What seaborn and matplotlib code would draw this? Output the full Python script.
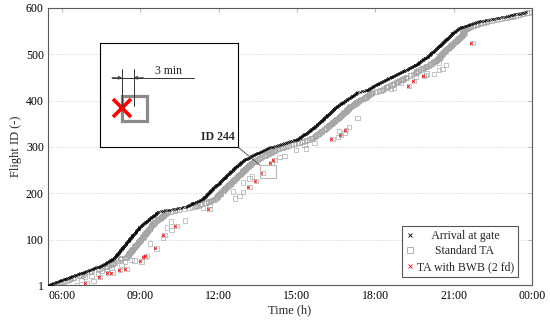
import numpy as np
import pandas as pd
import matplotlib
matplotlib.use('Agg')
import matplotlib.pyplot as plt
from matplotlib.lines import Line2D
from matplotlib.patches import Rectangle, ConnectionPatch
import seaborn as sns

# arrival time at gate of every flight, in flight ID order
arrival_hhmm = [
    '05:28', '05:30', '05:32', '05:35', '05:37', '05:40', '05:43', '05:46', '05:49', '05:52', '05:55', '05:58',
    '06:01', '06:04', '06:07', '06:09', '06:12', '06:15', '06:18', '06:21', '06:24', '06:27', '06:30', '06:33',
    '06:36', '06:39', '06:42', '06:45', '06:48', '06:51', '06:54', '06:56', '06:59',
    '07:02', '07:05', '07:08', '07:11', '07:14', '07:16', '07:19', '07:22', '07:25', '07:27', '07:30', '07:32',
    '07:34', '07:36', '07:38', '07:40', '07:42', '07:44', '07:46', '07:48', '07:50', '07:51', '07:53', '07:55',
    '07:56', '07:58', '07:59',
    '08:00', '08:01', '08:02', '08:03', '08:04', '08:05', '08:06', '08:07', '08:07', '08:08', '08:09', '08:10',
    '08:11', '08:12', '08:13', '08:14', '08:14', '08:15', '08:16', '08:17', '08:18', '08:19', '08:20', '08:21',
    '08:21', '08:22', '08:23', '08:24', '08:25', '08:26', '08:27', '08:28', '08:28', '08:29', '08:30', '08:31',
    '08:32', '08:33', '08:34', '08:35', '08:35', '08:36', '08:37', '08:38', '08:39', '08:40', '08:41', '08:42',
    '08:42', '08:43', '08:44', '08:45', '08:46', '08:47', '08:48', '08:49', '08:49', '08:50', '08:51', '08:52',
    '08:53', '08:54', '08:55', '08:56', '08:56', '08:57', '08:58', '08:59',
    '09:01', '09:02', '09:03', '09:05', '09:06', '09:07', '09:08', '09:10', '09:11', '09:12', '09:13', '09:15',
    '09:16', '09:17', '09:19', '09:20', '09:21', '09:23', '09:24', '09:25', '09:27', '09:28', '09:29', '09:31',
    '09:32', '09:33', '09:35', '09:36', '09:37', '09:39', '09:40', '09:41', '09:47', '09:52', '09:57',
    '10:03', '10:09', '10:15', '10:21', '10:27', '10:33', '10:39', '10:45', '10:48', '10:50', '10:52', '10:54',
    '10:56', '10:58', '10:59',
    '11:02', '11:04', '11:07', '11:09', '11:12', '11:14', '11:17', '11:19', '11:22', '11:24', '11:25', '11:26',
    '11:27', '11:28', '11:29', '11:30', '11:31', '11:32', '11:33', '11:34', '11:35', '11:36', '11:37', '11:38',
    '11:39', '11:40', '11:41', '11:42', '11:43', '11:44', '11:45', '11:46', '11:47', '11:48', '11:49', '11:51',
    '11:52', '11:53', '11:54', '11:56', '11:57', '11:59',
    '12:00', '12:01', '12:02', '12:03', '12:04', '12:05', '12:06', '12:07', '12:08', '12:09', '12:11', '12:12',
    '12:13', '12:14', '12:15', '12:16', '12:17', '12:18', '12:19', '12:20', '12:22', '12:23', '12:24', '12:25',
    '12:26', '12:27', '12:28', '12:29', '12:30', '12:32', '12:33', '12:34', '12:35', '12:36', '12:37', '12:38',
    '12:40', '12:41', '12:42', '12:43', '12:44', '12:46', '12:47', '12:48', '12:49', '12:51', '12:52', '12:53',
    '12:55', '12:56', '12:58', '12:59',
    '13:01', '13:03', '13:05', '13:07', '13:09', '13:11', '13:13', '13:15', '13:17', '13:19', '13:21', '13:23',
    '13:25', '13:27', '13:30', '13:32', '13:34', '13:37', '13:39', '13:41', '13:44', '13:46', '13:49', '13:51',
    '13:54', '13:56', '13:59',
    '14:02', '14:06', '14:09', '14:13', '14:16', '14:20', '14:24', '14:27', '14:31', '14:34', '14:38', '14:42',
    '14:45', '14:49', '14:52', '14:56', '14:59',
    '15:01', '15:03', '15:04', '15:06', '15:07', '15:09', '15:11', '15:12', '15:14', '15:15', '15:17', '15:19',
    '15:20', '15:22', '15:23', '15:25', '15:26', '15:28', '15:29', '15:31', '15:32', '15:33', '15:35', '15:36',
    '15:37', '15:38', '15:40', '15:41', '15:42', '15:43', '15:45', '15:46', '15:47', '15:48', '15:50', '15:51',
    '15:52', '15:53', '15:55', '15:56', '15:57', '15:58', '15:59',
    '16:00', '16:01', '16:02', '16:03', '16:05', '16:06', '16:07', '16:08', '16:09', '16:10', '16:12', '16:13',
    '16:14', '16:15', '16:16', '16:17', '16:19', '16:20', '16:21', '16:22', '16:23', '16:24', '16:25', '16:26',
    '16:27', '16:28', '16:29', '16:31', '16:33', '16:34', '16:36', '16:37', '16:39', '16:40', '16:42', '16:43',
    '16:45', '16:46', '16:48', '16:50', '16:51', '16:53', '16:54', '16:56', '16:58',
    '17:00', '17:01', '17:03', '17:04', '17:06', '17:07', '17:09', '17:10', '17:12', '17:13', '17:15', '17:16',
    '17:18', '17:19', '17:25', '17:30', '17:34', '17:38', '17:41', '17:43', '17:45', '17:46', '17:48', '17:50',
    '17:52', '17:54', '17:55', '17:57', '17:59',
    '18:01', '18:03', '18:05', '18:07', '18:09', '18:11', '18:14', '18:16', '18:18', '18:20', '18:22', '18:24',
    '18:26', '18:28', '18:30', '18:33', '18:35', '18:37', '18:39', '18:41', '18:43', '18:45', '18:47', '18:50',
    '18:52', '18:54', '18:56', '18:58',
    '19:01', '19:03', '19:05', '19:07', '19:09', '19:12', '19:14', '19:16', '19:18', '19:20', '19:22', '19:24',
    '19:26', '19:28', '19:31', '19:32', '19:34', '19:35', '19:37', '19:38', '19:40', '19:41', '19:43', '19:44',
    '19:46', '19:47', '19:49', '19:50', '19:52', '19:53', '19:55', '19:57', '19:58',
    '20:00', '20:01', '20:02', '20:03', '20:05', '20:06', '20:07', '20:08', '20:09', '20:10', '20:12', '20:13',
    '20:14', '20:15', '20:16', '20:17', '20:19', '20:20', '20:21', '20:22', '20:23', '20:24', '20:26', '20:27',
    '20:28', '20:29', '20:30', '20:31', '20:33', '20:34', '20:35', '20:36', '20:37', '20:38', '20:40', '20:41',
    '20:42', '20:43', '20:44', '20:45', '20:47', '20:48', '20:49', '20:50', '20:51', '20:52', '20:53', '20:54',
    '20:55', '20:56', '20:57', '20:58', '20:59',
    '21:01', '21:02', '21:04', '21:05', '21:07', '21:08', '21:10', '21:11', '21:13', '21:14', '21:16', '21:18',
    '21:22', '21:25', '21:28', '21:32', '21:35', '21:38', '21:42', '21:45', '21:48', '21:52', '21:55', '21:58',
    '22:03', '22:09', '22:15', '22:21', '22:27', '22:33', '22:39', '22:45', '22:51', '22:57',
    '23:02', '23:07', '23:12', '23:17', '23:22', '23:27', '23:32', '23:37', '23:42', '23:47',
]

# standard turnaround duration by hour of arrival
ta_hour = [5, 6, 7, 8, 9, 10, 11, 12, 13, 14, 15, 16, 17, 18, 19, 20, 21, 22, 23]
ta_duration_min = [12, 12, 18, 26, 22, 20, 28, 27, 28, 28, 30, 32, 34, 36, 32, 26, 18, 18, 10]

# flights whose standard TA ends far later than usual
late_ids = [2, 6, 11, 13, 19, 20, 21, 27, 28, 29, 33, 34, 37, 38, 40, 45, 52, 53, 55, 56,
            62, 65, 81, 92, 103, 110, 121, 126, 129, 139, 141, 166, 168, 175, 189, 194, 203, 204,
            214, 223, 227, 232, 236, 244, 266, 272, 279, 280, 294, 297, 304, 308, 317, 321, 326,
            330, 335, 337, 343, 362, 425, 427, 432, 438, 443, 452, 453, 456, 457, 459, 466, 468,
            477, 481, 524]
late_hhmm = ['06:34', '06:56', '07:12', '06:45', '07:27', '06:53', '07:08', '07:23', '07:46', '07:56',
             '07:31', '08:13', '08:28', '07:42', '07:54', '08:17', '08:25', '09:03', '08:47', '08:40',
             '09:10', '09:14', '09:37', '09:22', '09:52', '09:56', '10:12', '10:01', '10:23', '10:11',
             '10:42', '11:39', '11:24', '11:39', '12:37', '12:48', '12:56', '12:33', '13:11', '12:56',
             '13:26', '13:11', '13:17', '13:41', '14:01', '14:08', '14:20', '14:31', '14:58', '15:21',
             '15:17', '15:40', '16:22', '16:34', '16:41', '16:49', '16:36', '16:53', '16:59', '17:19',
             '18:36', '18:43', '19:18', '18:59', '19:29', '19:33', '19:52', '19:56', '20:15', '19:58',
             '20:26', '20:34', '20:43', '20:26', '21:43']

# flights handled with BWB (2 fd)
bwb_ids = [6, 19, 28, 29, 34, 37, 53, 62, 65, 81, 110, 129, 166, 214, 227, 244, 266, 272,
           317, 326, 337, 432, 443, 453, 524]
bwb_saving_min = 3
highlight_id = 244

x_ticks = [6, 9, 12, 15, 18, 21, 24]
x_tick_labels = ['06:00', '09:00', '12:00', '15:00', '18:00', '21:00', '00:00']
y_ticks = [1, 100, 200, 300, 400, 500, 600]


def to_hours(s):
    h, m = s.split(':')
    return int(h) + int(m) / 60


df = pd.DataFrame({'arrival': [to_hours(s) for s in arrival_hhmm]})
df['flight_id'] = np.arange(1, len(df) + 1)
dur = dict(zip(ta_hour, ta_duration_min))
df['std_ta'] = df['arrival'] + df['arrival'].astype(int).map(dur) / 60
late = dict(zip(late_ids, [to_hours(s) for s in late_hhmm]))
mask = df['flight_id'].isin(late_ids)
df.loc[mask, 'std_ta'] = df.loc[mask, 'flight_id'].map(late)
bwb = df[df['flight_id'].isin(bwb_ids)].copy()
bwb['bwb_ta'] = bwb['std_ta'] - bwb_saving_min / 60

sns.set_theme(style='white')
plt.rcParams['font.family'] = ['Liberation Serif', 'DejaVu Serif']
plt.rcParams['mathtext.fontset'] = 'dejavuserif'

fig = plt.figure(figsize=(5.5, 3.21), dpi=100)
ax = fig.add_axes([0.0873, 0.1106, 0.880, 0.8645])

sq_col = '#a4a4a4'
sns.scatterplot(x='std_ta', y='flight_id', data=df, marker='s', s=10,
                facecolor='none', edgecolor=sq_col, linewidth=0.45, ax=ax, zorder=3)
sns.scatterplot(x='arrival', y='flight_id', data=df, marker='x', s=2.5,
                color='black', linewidth=0.6, ax=ax, zorder=4)
sns.scatterplot(x='bwb_ta', y='flight_id', data=bwb, marker='x', s=3,
                color='red', linewidth=0.7, ax=ax, zorder=5)

ax.set_xlim(5.465, 24)
ax.set_ylim(1, 600)
ax.set_xticks(x_ticks)
ax.set_xticklabels(x_tick_labels)
ax.set_yticks(y_ticks)
ax.set_xlabel('Time (h)', fontsize=9, labelpad=2)
ax.set_ylabel('Flight ID (-)', fontsize=9, labelpad=3)
ax.tick_params(direction='in', length=3, width=0.6, color='#a8a8a8',
               top=True, right=True, labelsize=8.5, pad=3, labelcolor='black')
ax.yaxis.grid(True, linestyle=(0, (1, 2)), color='#c4c4c4', linewidth=0.6)
ax.xaxis.grid(False)
for sp in ax.spines.values():
    sp.set_color('#5a5a5a')
    sp.set_linewidth(0.8)

# highlighted flight box
hl = df[df['flight_id'] == highlight_id].iloc[0]
rx0, ry0 = hl['std_ta'] - 0.11, highlight_id - 11.5
rect = Rectangle((rx0, ry0), 0.61, 28.5, fill=False, edgecolor='#b8b8b8', linewidth=0.8, zorder=6)
ax.add_patch(rect)

handles = [
    Line2D([], [], linestyle='none', marker='x', color='black', markersize=3, markeredgewidth=0.6),
    Line2D([], [], linestyle='none', marker='s', markerfacecolor='none', markeredgecolor=sq_col,
           markersize=4, markeredgewidth=0.6),
    Line2D([], [], linestyle='none', marker='x', color='red', markersize=3, markeredgewidth=0.6),
]
labels = ['     Arrival at gate', '      Standard TA', 'TA with BWB (2 fd)']
leg = ax.legend(handles, labels, loc='lower right', bbox_to_anchor=(0.971, 0.03), fontsize=8.5,
                frameon=True, fancybox=False, framealpha=1, edgecolor='#555555',
                handlelength=0.6, handletextpad=0.3, labelspacing=0.3, borderpad=0.35,
                borderaxespad=0)
leg.get_frame().set_linewidth(0.8)
leg.set_zorder(10)

# inset explaining the BWB gain
ins = fig.add_axes([0.1818, 0.541, 0.2515, 0.324])
ins.set_xlim(-5.7, 30)
ins.set_ylim(0, 1)
ins.set_xticks([])
ins.set_yticks([])
ins.set_facecolor('white')
for sp in ins.spines.values():
    sp.set_color('black')
    sp.set_linewidth(0.8)
ins.plot([bwb_saving_min], [0.383], marker='s', markersize=18, markerfacecolor='none',
         markeredgecolor='#8a8a8a', markeredgewidth=2.3, linestyle='none', zorder=2)
ins.plot([0], [0.383], marker='x', markersize=13, color='red', markeredgewidth=2.6,
         linestyle='none', zorder=3)
ins.plot([0, 0], [0.40, 0.753], color='#333333', lw=0.7, zorder=4)
ins.plot([bwb_saving_min, bwb_saving_min], [0.40, 0.753], color='#333333', lw=0.7, zorder=4)
ins.plot([-2.6, 18.6], [0.669, 0.669], color='#333333', lw=0.7, zorder=4)
ins.annotate('', xy=(0, 0.669), xytext=(-2.6, 0.669),
             arrowprops=dict(arrowstyle='->', color='#333333', lw=0.7, mutation_scale=5,
                             shrinkA=0, shrinkB=0))
ins.annotate('', xy=(bwb_saving_min, 0.669), xytext=(5.5, 0.669),
             arrowprops=dict(arrowstyle='->', color='#333333', lw=0.7, mutation_scale=5,
                             shrinkA=0, shrinkB=0))
ins.text(12.1, 0.735, f'{bwb_saving_min} min', fontsize=8.5, ha='center', va='center')
ins.text(0.976, 0.1, f'ID {highlight_id}', fontsize=8.5, fontweight='bold',
         ha='right', va='center', transform=ins.transAxes)

con = ConnectionPatch(xyA=(1, 0), coordsA=ins.transAxes, xyB=(rx0, ry0 + 28.5), coordsB=ax.transData,
                      color='#444444', lw=0.6)
fig.add_artist(con)

fig.savefig('out.png', dpi=100)
plt.close(fig)
